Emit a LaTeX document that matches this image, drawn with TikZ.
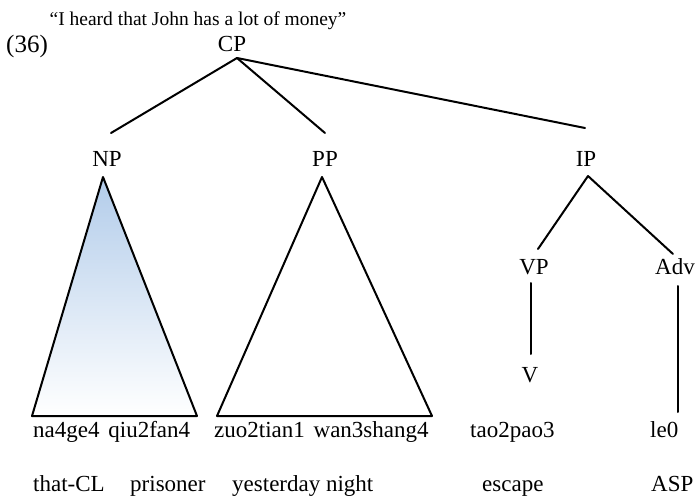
\documentclass[tikz,border=0pt]{standalone}
\usepackage{fontspec}
\setmainfont{Liberation Serif}
\begin{document}
\begin{tikzpicture}[x=1pt,y=-1pt,
  lbl/.style={inner sep=0pt,font=\fontsize{23}{27}\selectfont},
  word/.style={inner sep=0pt,anchor=base west,font=\fontsize{23}{27}\selectfont},
  edge/.style={line width=2pt,line cap=round,line join=round}]
\useasboundingbox (0,0) rectangle (696,500);
% header
\node[inner sep=0pt,anchor=base,font=\fontsize{19.5}{23}\selectfont] (quote) at (198,26) {``I heard that John has a lot of money''};
\node[inner sep=0pt,anchor=base west,font=\fontsize{25}{29}\selectfont] (ex) at (6,53) {(36)};
% labels
\node[lbl,anchor=base] (CP) at (232,52) {CP};
\node[lbl,anchor=base] (NP) at (107,166) {NP};
\node[lbl,anchor=base] (PP) at (325,166) {PP};
\node[lbl,anchor=base] (IP) at (586,166) {IP};
\node[lbl,anchor=base] (VP) at (534,274) {VP};
\node[lbl,anchor=base] (Adv) at (675,274) {Adv};
\node[lbl,anchor=base] (V) at (530,382) {V};
% coordinates for line ends
\coordinate (cpA) at (237,58);
\coordinate (npT) at (111,133);
\coordinate (ppT) at (325,133);
\coordinate (ipT) at (585,128);
\coordinate (ipA) at (588,176);
\coordinate (vpT) at (538,249);
\coordinate (advT) at (673,254);
\coordinate (vpB) at (531,283);
\coordinate (vT) at (531,354);
\coordinate (advB) at (678,286);
\coordinate (leT) at (678,412);
% NP triangle
\coordinate (npA) at (103,177);
\coordinate (npL) at (32,416);
\coordinate (npR) at (197,416);
\shade[top color={rgb,255:red,178;green,204;blue,234}, bottom color=white] (npA) -- (npL) -- (npR) -- cycle;
\draw[edge] (npA) -- (npL) -- (npR) -- cycle;
% PP triangle
\coordinate (ppA) at (322,177);
\coordinate (ppL) at (217,416);
\coordinate (ppR) at (432,416);
\draw[edge] (ppA) -- (ppL) -- (ppR) -- cycle;
% tree edges
\draw[edge] (cpA) -- (npT);
\draw[edge] (cpA) -- (ppT);
\draw[edge] (cpA) -- (ipT);
\draw[edge] (ipA) -- (vpT);
\draw[edge] (ipA) -- (advT);
\draw[edge] (vpB) -- (vT);
\draw[edge] (advB) -- (leT);
% row 1
\node[word] (w1) at (33,437) {na4ge4\hspace{3pt} qiu2fan4};
\node[word] (w2) at (214,437) {zuo2tian1\hspace{3pt} wan3shang4};
\node[word] (w3) at (470,437) {tao2pao3};
\node[word] (w4) at (650,437) {le0};
% row 2
\node[word] (g1) at (33,491) {that-CL};
\node[word] (g2) at (130,491) {prisoner};
\node[word] (g3) at (232,491) {yesterday night};
\node[word] (g4) at (482,491) {escape};
\node[word] (g5) at (651,491) {ASP};
\end{tikzpicture}
\end{document}
